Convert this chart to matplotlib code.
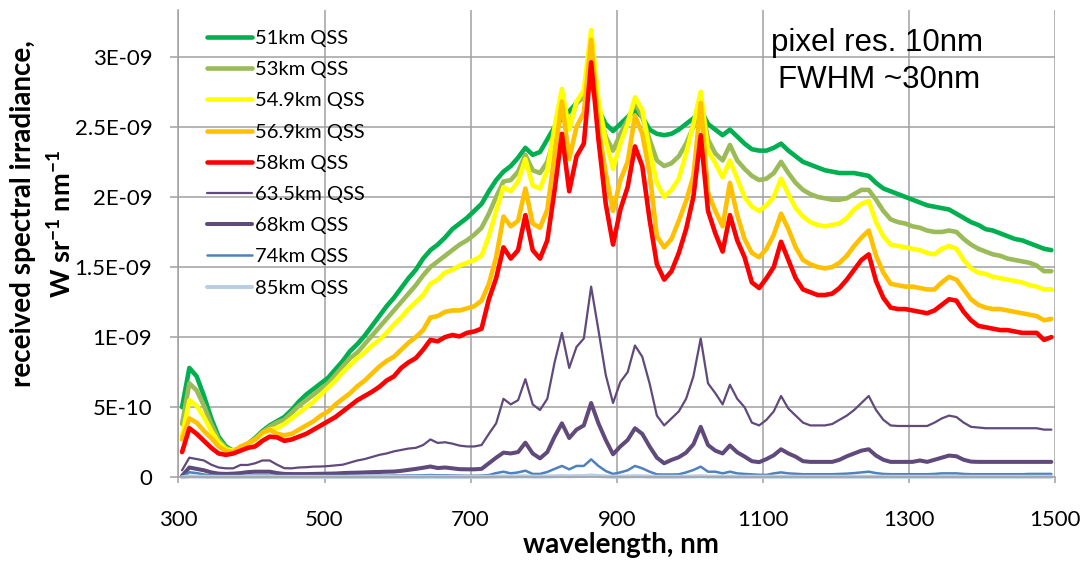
import matplotlib
matplotlib.use("Agg")
import matplotlib.pyplot as plt
import numpy as np

plt.rcParams['font.family'] = ['Lato', 'DejaVu Sans']
plt.rcParams['mathtext.fontset'] = 'custom'
plt.rcParams['mathtext.rm'] = 'Lato'
plt.rcParams['mathtext.bf'] = 'Lato:bold'

# wavelength grid (10 nm pixel resolution)
wavelength_nm = list(range(305, 1500, 10))

s51 = [0.50, 0.78, 0.72, 0.58, 0.42, 0.29, 0.22, 0.19, 0.21, 0.24,
       0.28, 0.33, 0.37, 0.40, 0.43, 0.48, 0.54, 0.59, 0.63, 0.67,
       0.71, 0.77, 0.83, 0.90, 0.95, 1.01, 1.08, 1.15, 1.22, 1.28,
       1.35, 1.42, 1.48, 1.56, 1.62, 1.66, 1.71, 1.77, 1.81, 1.85,
       1.90, 1.95, 2.04, 2.12, 2.18, 2.22, 2.28, 2.35, 2.30, 2.32,
       2.41, 2.50, 2.56, 2.61, 2.67, 2.74, 2.82, 2.62, 2.52, 2.47,
       2.52, 2.57, 2.62, 2.57, 2.48, 2.45, 2.44, 2.45, 2.48, 2.52,
       2.56, 2.62, 2.52, 2.48, 2.44, 2.48, 2.43, 2.38, 2.34, 2.33,
       2.33, 2.35, 2.38, 2.33, 2.29, 2.25, 2.23, 2.21, 2.19, 2.18,
       2.17, 2.17, 2.17, 2.16, 2.15, 2.10, 2.06, 2.04, 2.02, 2.00,
       1.98, 1.96, 1.94, 1.93, 1.92, 1.91, 1.88, 1.85, 1.82, 1.80,
       1.77, 1.76, 1.74, 1.72, 1.70, 1.69, 1.67, 1.65, 1.63, 1.62]

s53 = [0.38, 0.67, 0.62, 0.51, 0.38, 0.27, 0.21, 0.19, 0.21, 0.24,
       0.27, 0.32, 0.36, 0.39, 0.41, 0.46, 0.51, 0.55, 0.59, 0.63,
       0.67, 0.73, 0.79, 0.85, 0.89, 0.95, 1.01, 1.07, 1.13, 1.19,
       1.25, 1.31, 1.37, 1.44, 1.50, 1.54, 1.58, 1.62, 1.66, 1.69,
       1.73, 1.78, 1.88, 2.00, 2.11, 2.12, 2.18, 2.30, 2.19, 2.17,
       2.25, 2.43, 2.62, 2.50, 2.67, 2.71, 2.98, 2.64, 2.43, 2.33,
       2.45, 2.55, 2.67, 2.57, 2.41, 2.26, 2.22, 2.24, 2.29, 2.38,
       2.50, 2.69, 2.41, 2.31, 2.26, 2.37, 2.26, 2.20, 2.15, 2.12,
       2.13, 2.17, 2.25, 2.17, 2.10, 2.05, 2.02, 2.00, 1.99, 1.98,
       1.98, 1.99, 2.02, 2.05, 2.05, 1.98, 1.90, 1.84, 1.82, 1.81,
       1.79, 1.78, 1.76, 1.75, 1.75, 1.76, 1.75, 1.70, 1.66, 1.63,
       1.61, 1.59, 1.58, 1.56, 1.55, 1.54, 1.53, 1.51, 1.47, 1.47]

s549 = [0.29, 0.55, 0.51, 0.43, 0.33, 0.25, 0.20, 0.19, 0.21, 0.24,
        0.27, 0.31, 0.34, 0.35, 0.38, 0.42, 0.46, 0.50, 0.54, 0.59,
        0.64, 0.69, 0.75, 0.80, 0.85, 0.89, 0.94, 0.98, 1.03, 1.09,
        1.14, 1.20, 1.25, 1.30, 1.38, 1.41, 1.46, 1.48, 1.51, 1.53,
        1.55, 1.58, 1.72, 1.90, 2.07, 2.04, 2.11, 2.27, 2.08, 2.06,
        2.19, 2.50, 2.77, 2.48, 2.68, 2.76, 3.19, 2.69, 2.40, 2.20,
        2.38, 2.52, 2.71, 2.62, 2.33, 2.10, 2.00, 2.05, 2.13, 2.31,
        2.52, 2.75, 2.33, 2.24, 2.14, 2.26, 2.13, 2.00, 1.93, 1.90,
        1.94, 2.00, 2.13, 2.02, 1.92, 1.86, 1.82, 1.80, 1.79, 1.80,
        1.81, 1.85, 1.91, 1.95, 1.97, 1.82, 1.72, 1.66, 1.65, 1.64,
        1.63, 1.62, 1.60, 1.59, 1.63, 1.65, 1.63, 1.55, 1.49, 1.46,
        1.45, 1.43, 1.42, 1.41, 1.40, 1.39, 1.37, 1.36, 1.34, 1.34]

s569 = [0.27, 0.42, 0.39, 0.33, 0.28, 0.22, 0.19, 0.18, 0.22, 0.24,
        0.27, 0.32, 0.34, 0.31, 0.30, 0.31, 0.34, 0.37, 0.40, 0.44,
        0.47, 0.52, 0.56, 0.60, 0.65, 0.69, 0.74, 0.79, 0.83, 0.86,
        0.91, 0.96, 1.00, 1.05, 1.14, 1.15, 1.18, 1.19, 1.19, 1.205,
        1.22, 1.26, 1.38, 1.57, 1.86, 1.79, 1.83, 2.06, 1.81, 1.78,
        1.91, 2.30, 2.68, 2.27, 2.50, 2.60, 3.12, 2.50, 2.17, 1.90,
        2.12, 2.25, 2.58, 2.45, 2.17, 1.72, 1.64, 1.70, 1.83, 1.97,
        2.15, 2.67, 2.03, 1.90, 1.79, 2.10, 1.87, 1.70, 1.60, 1.57,
        1.63, 1.73, 1.88, 1.77, 1.64, 1.55, 1.52, 1.50, 1.49, 1.50,
        1.53, 1.58, 1.65, 1.71, 1.76, 1.58, 1.46, 1.38, 1.37, 1.36,
        1.36, 1.35, 1.34, 1.34, 1.39, 1.43, 1.41, 1.34, 1.27, 1.23,
        1.21, 1.20, 1.20, 1.19, 1.18, 1.17, 1.16, 1.15, 1.12, 1.13]

s58 = [0.18, 0.35, 0.31, 0.26, 0.21, 0.17, 0.16, 0.17, 0.19, 0.21,
       0.22, 0.26, 0.29, 0.285, 0.26, 0.27, 0.29, 0.31, 0.34, 0.37,
       0.40, 0.43, 0.47, 0.51, 0.55, 0.58, 0.61, 0.645, 0.69, 0.72,
       0.78, 0.82, 0.85, 0.91, 0.98, 0.97, 1.00, 1.015, 1.005, 1.03,
       1.04, 1.06, 1.27, 1.42, 1.64, 1.56, 1.62, 1.87, 1.62, 1.56,
       1.69, 2.05, 2.45, 2.04, 2.29, 2.38, 2.96, 2.41, 1.95, 1.66,
       1.91, 2.07, 2.36, 2.22, 1.84, 1.52, 1.41, 1.47, 1.60, 1.77,
       2.00, 2.44, 1.90, 1.74, 1.61, 1.87, 1.69, 1.57, 1.39, 1.35,
       1.42, 1.50, 1.68, 1.55, 1.42, 1.34, 1.32, 1.30, 1.30, 1.31,
       1.35, 1.41, 1.48, 1.55, 1.59, 1.40, 1.28, 1.21, 1.20, 1.20,
       1.19, 1.18, 1.17, 1.19, 1.23, 1.27, 1.26, 1.18, 1.12, 1.08,
       1.07, 1.06, 1.05, 1.05, 1.04, 1.03, 1.03, 1.03, 0.98, 1.00]

s635 = [0.05, 0.14, 0.13, 0.12, 0.09, 0.07, 0.064, 0.064, 0.088, 0.088,
        0.10, 0.12, 0.12, 0.09, 0.065, 0.064, 0.07, 0.072, 0.076, 0.077,
        0.08, 0.085, 0.09, 0.105, 0.12, 0.13, 0.145, 0.16, 0.17, 0.185,
        0.195, 0.205, 0.21, 0.23, 0.27, 0.245, 0.25, 0.24, 0.226, 0.22,
        0.22, 0.23, 0.31, 0.385, 0.56, 0.52, 0.55, 0.70, 0.52, 0.48,
        0.56, 0.82, 1.03, 0.78, 0.93, 0.99, 1.36, 1.05, 0.73, 0.53,
        0.68, 0.75, 0.94, 0.86, 0.67, 0.44, 0.37, 0.42, 0.47, 0.56,
        0.72, 0.99, 0.67, 0.60, 0.52, 0.66, 0.56, 0.50, 0.39, 0.37,
        0.41, 0.47, 0.58, 0.49, 0.44, 0.39, 0.37, 0.37, 0.37, 0.38,
        0.41, 0.44, 0.48, 0.53, 0.58, 0.48, 0.41, 0.37, 0.366, 0.366,
        0.366, 0.366, 0.366, 0.39, 0.42, 0.44, 0.43, 0.39, 0.36, 0.355,
        0.35, 0.35, 0.35, 0.35, 0.35, 0.35, 0.35, 0.35, 0.34, 0.34]

s68 = [0.01, 0.07, 0.06, 0.05, 0.035, 0.026, 0.024, 0.026, 0.03, 0.037,
       0.04, 0.04, 0.04, 0.03, 0.024, 0.023, 0.023, 0.023, 0.024, 0.025,
       0.026, 0.027, 0.03, 0.032, 0.033, 0.035, 0.037, 0.038, 0.04, 0.041,
       0.046, 0.053, 0.06, 0.068, 0.077, 0.066, 0.07, 0.064, 0.058, 0.057,
       0.057, 0.06, 0.10, 0.14, 0.176, 0.17, 0.18, 0.247, 0.17, 0.135,
       0.18, 0.29, 0.385, 0.28, 0.34, 0.37, 0.53, 0.385, 0.266, 0.164,
       0.22, 0.266, 0.35, 0.31, 0.22, 0.14, 0.10, 0.124, 0.143, 0.176,
       0.235, 0.36, 0.23, 0.19, 0.17, 0.227, 0.178, 0.148, 0.115, 0.108,
       0.13, 0.157, 0.20, 0.17, 0.147, 0.115, 0.11, 0.11, 0.11, 0.11,
       0.125, 0.15, 0.17, 0.19, 0.20, 0.155, 0.125, 0.11, 0.11, 0.11,
       0.11, 0.12, 0.11, 0.125, 0.14, 0.155, 0.15, 0.125, 0.112, 0.11,
       0.11, 0.11, 0.11, 0.11, 0.11, 0.11, 0.11, 0.11, 0.11, 0.11]

s74 = [0.0, 0.036, 0.03, 0.02, 0.014, 0.01, 0.009, 0.009, 0.01, 0.011,
       0.012, 0.012, 0.012, 0.01, 0.009, 0.009, 0.009, 0.009, 0.009, 0.009,
       0.009, 0.009, 0.01, 0.01, 0.01, 0.01, 0.011, 0.011, 0.011, 0.012,
       0.012, 0.013, 0.013, 0.014, 0.016, 0.014, 0.014, 0.013, 0.012, 0.011,
       0.011, 0.012, 0.016, 0.03, 0.04, 0.028, 0.035, 0.047, 0.024, 0.024,
       0.038, 0.06, 0.081, 0.057, 0.081, 0.081, 0.128, 0.081, 0.045, 0.024,
       0.035, 0.05, 0.081, 0.064, 0.04, 0.021, 0.02, 0.02, 0.021, 0.035,
       0.052, 0.076, 0.04, 0.04, 0.028, 0.04, 0.028, 0.024, 0.021, 0.018,
       0.017, 0.028, 0.035, 0.028, 0.025, 0.022, 0.022, 0.022, 0.022, 0.022,
       0.024, 0.026, 0.03, 0.035, 0.04, 0.03, 0.024, 0.022, 0.022, 0.022,
       0.022, 0.022, 0.022, 0.024, 0.028, 0.028, 0.028, 0.024, 0.022, 0.022,
       0.022, 0.022, 0.022, 0.022, 0.022, 0.022, 0.024, 0.024, 0.024, 0.024]

s85 = [0.0, 0.006, 0.005, 0.004, 0.003, 0.003, 0.003, 0.003, 0.003, 0.003,
       0.003, 0.003, 0.003, 0.003, 0.003, 0.003, 0.003, 0.003, 0.003, 0.003,
       0.003, 0.003, 0.003, 0.003, 0.003, 0.003, 0.003, 0.003, 0.003, 0.003,
       0.003, 0.003, 0.003, 0.003, 0.004, 0.003, 0.003, 0.003, 0.003, 0.003,
       0.003, 0.003, 0.004, 0.005, 0.006, 0.005, 0.006, 0.007, 0.005, 0.005,
       0.006, 0.007, 0.009, 0.007, 0.009, 0.009, 0.013, 0.009, 0.006, 0.004,
       0.005, 0.006, 0.008, 0.007, 0.005, 0.004, 0.004, 0.004, 0.004, 0.005,
       0.006, 0.008, 0.005, 0.005, 0.004, 0.005, 0.004, 0.004, 0.004, 0.004,
       0.004, 0.004, 0.004, 0.004, 0.004, 0.004, 0.004, 0.004, 0.004, 0.004,
       0.004, 0.004, 0.004, 0.004, 0.004, 0.004, 0.004, 0.004, 0.004, 0.004,
       0.004, 0.004, 0.004, 0.004, 0.004, 0.004, 0.004, 0.004, 0.004, 0.004,
       0.004, 0.004, 0.004, 0.004, 0.004, 0.004, 0.004, 0.004, 0.004, 0.004]

series_labels = ['51km QSS', '53km QSS', '54.9km QSS', '56.9km QSS', '58km QSS',
                 '63.5km QSS', '68km QSS', '74km QSS', '85km QSS']
series_values = [s51, s53, s549, s569, s58, s635, s68, s74, s85]
series_colors = ['#00b050', '#9bbb59', '#ffff00', '#ffc000', '#ff0000',
                 '#604a7b', '#604a7b', '#4f81bd', '#b9cde5']
series_widths = [3.3, 3.3, 3.3, 3.3, 3.3, 1.6, 2.9, 1.8, 2.9]

y_ticks = [0, 0.5e-9, 1e-9, 1.5e-9, 2e-9, 2.5e-9, 3e-9]
y_ticklabels = ['0', '5E-10', '1E-09', '1.5E-09', '2E-09', '2.5E-09', '3E-09']
x_ticks = [300, 500, 700, 900, 1100, 1300, 1500]

W, H = 1080, 562
fig = plt.figure(figsize=(W / 100, H / 100), dpi=100)
ax = fig.add_axes([178.4 / W, 1 - 477.3 / H, (1055 - 178.4) / W, (477.3 - 10) / H])

grid_c = '#a0a0a0'
handles = []
for lab, vals, col, lw in zip(series_labels, series_values, series_colors, series_widths):
    h, = ax.plot(wavelength_nm, np.array(vals) * 1e-9, color=col, lw=lw,
                 label=lab, solid_joinstyle='round', solid_capstyle='round', clip_on=False)
    handles.append(h)

ax.set_xlim(300, 1500)
ax.set_ylim(0, 3.333e-9)
ax.set_xticks(x_ticks)
ax.set_xticklabels([str(t) for t in x_ticks])
ax.set_yticks(y_ticks)
ax.set_yticklabels(y_ticklabels)
ax.grid(True, color=grid_c, lw=1.1)
ax.set_axisbelow(True)
for s in ['top', 'right']:
    ax.spines[s].set_visible(False)
for s in ['left', 'bottom']:
    ax.spines[s].set_color(grid_c)
    ax.spines[s].set_linewidth(1.1)
ax.tick_params(axis='x', length=4.3, width=1.1, color=grid_c, pad=19, labelsize=16)
ax.tick_params(axis='y', length=5.8, width=1.1, color=grid_c, pad=13, labelsize=16)

leg = ax.legend(handles=handles, loc='upper left',
                bbox_to_anchor=((207 - 178.4) / 876.6, 1.0 - 20 / 467.3),
                frameon=False, fontsize=14.5, handlelength=2.24, handletextpad=0.15,
                labelspacing=0.70, borderpad=0, borderaxespad=0)

fig.text(877 / W, 1 - 50.7 / H, 'pixel res. 10nm', ha='center', va='baseline',
         fontsize=22.5, family='Liberation Sans')
fig.text(879 / W, 1 - 88.3 / H, 'FWHM ~30nm', ha='center', va='baseline',
         fontsize=22.5, family='Liberation Sans')

fig.text(23 / W, 1 - 214 / H, 'received spectral irradiance,', rotation=90,
         ha='center', va='center', fontsize=20, fontweight='bold')
fig.text(61 / W, 1 - 224 / H, r'W sr$^{\mathbf{-1}}$ nm$^{\mathbf{-1}}$', rotation=90,
         ha='center', va='center', fontsize=19.5, fontweight='bold')
fig.text(621 / W, 1 - 545 / H, 'wavelength, nm', ha='center', va='center',
         fontsize=20, fontweight='bold')

fig.savefig('out.png', dpi=100)
